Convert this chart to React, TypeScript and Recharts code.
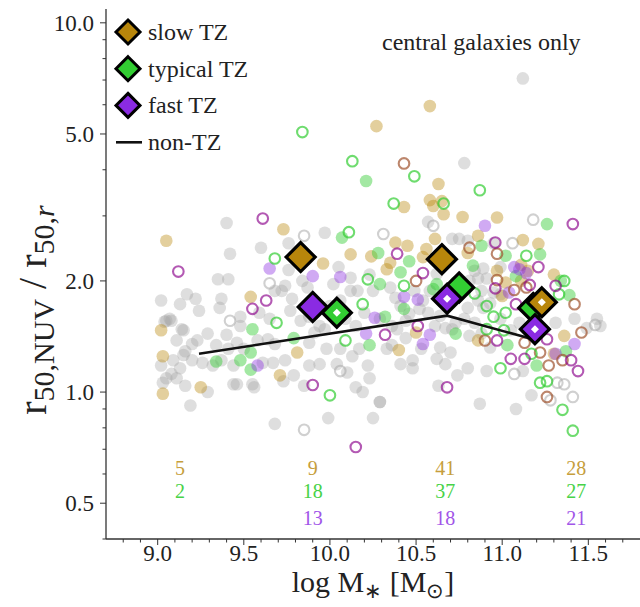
import React from "react"
import { ScatterChart, Scatter, XAxis, YAxis } from "recharts"

type Pt = [number, number]

// non-TZ galaxies (grey)
const nonTzFilled: Pt[] = [
  [11.12, 7.07], [10.78, 4.17], [9.40, 2.87], [9.42, 2.37], [9.60, 2.46], [9.97, 2.70], [9.76, 2.53], [9.76, 2.14],
  [9.35, 2.02], [9.41, 2.02], [9.84, 2.0], [10.05, 2.18], [10.12, 2.04], [10.02, 1.96], [9.87, 1.92], [9.74, 1.94],
  [9.72, 1.88], [9.68, 1.88], [10.12, 1.88], [10.16, 1.88], [9.78, 1.79], [9.02, 1.77], [9.17, 1.84], [9.13, 1.73],
  [9.22, 1.79], [9.24, 1.66], [9.37, 1.79], [9.36, 1.69], [10.23, 2.08], [10.25, 1.88], [9.07, 1.58], [9.15, 1.47],
  [9.04, 1.55], [9.48, 1.60],
  [10.57, 2.89], [10.71, 2.60], [10.75, 2.60], [10.80, 2.57], [10.89, 2.16], [10.84, 2.13], [10.86, 2.03], [10.81, 2.0],
  [10.91, 2.03], [10.95, 1.86], [10.99, 1.84], [10.88, 1.88], [10.62, 2.09], [10.58, 1.88], [10.49, 1.88], [10.54, 1.77],
  [10.57, 1.64], [10.86, 1.77], [10.89, 1.69], [10.80, 1.69], [10.93, 1.74], [10.38, 1.80], [10.35, 1.92], [10.52, 1.68],
  [10.46, 1.63], [10.99, 2.18], [11.55, 1.58], [10.95, 2.53],
  [9.05, 1.56], [9.08, 1.56], [9.14, 1.48], [9.29, 1.44], [9.40, 1.43], [9.46, 1.36], [9.48, 1.51], [9.23, 1.38],
  [9.20, 1.35], [9.15, 1.26], [9.09, 1.22], [9.20, 1.22], [9.13, 1.16], [9.08, 1.12], [9.11, 1.09], [9.05, 1.09],
  [9.03, 1.06], [9.16, 1.04], [9.29, 1.0], [9.26, 1.20], [9.32, 1.18], [9.37, 1.22], [9.44, 1.18], [9.44, 1.05],
  [9.55, 1.05], [9.56, 1.03], [9.41, 1.31], [9.50, 1.31], [9.58, 1.38], [9.64, 1.39], [9.68, 1.35], [9.67, 1.20],
  [9.61, 1.20], [9.74, 1.22], [9.79, 1.11], [9.73, 1.07], [9.85, 1.04], [9.88, 1.18], [9.94, 1.19], [9.98, 1.31],
  [9.88, 1.36], [9.91, 1.45], [9.97, 1.48], [10.06, 1.31], [10.13, 1.25], [10.04, 1.19], [10.15, 1.03], [10.19, 1.0],
  [10.10, 1.13], [10.22, 1.18], [10.23, 1.09], [10.29, 0.94], [10.25, 0.85], [9.19, 0.92], [9.68, 0.82], [9.99, 0.85],
  [9.46, 1.05], [9.02, 1.18], [9.11, 1.38], [9.16, 1.29], [9.34, 1.34], [10.17, 1.31], [10.33, 1.31],
  [10.41, 1.19], [10.48, 1.22], [10.48, 1.16], [10.62, 1.23], [10.67, 1.19], [10.70, 1.28], [10.64, 1.32], [10.53, 1.31],
  [10.44, 1.40], [10.39, 1.48], [10.36, 1.34], [10.74, 1.11], [10.80, 1.16], [10.63, 1.04], [10.91, 1.14], [10.87, 0.93],
  [11.08, 0.90], [11.17, 0.98], [11.12, 1.14], [10.81, 1.42], [10.88, 1.44], [10.93, 1.32], [10.67, 1.49], [10.71, 1.48],
  [10.61, 1.51], [11.49, 1.49], [10.29, 0.94],
  [9.59, 1.64], [9.65, 1.58], [9.77, 1.66], [9.83, 1.56], [9.88, 1.60], [9.94, 1.51], [10.09, 1.58], [10.15, 1.51],
  [10.20, 1.64], [10.29, 1.58], [10.36, 1.51], [10.41, 1.71], [10.44, 1.56], [10.64, 1.61], [10.73, 1.54], [10.78, 1.58],
  [10.84, 1.54], [10.99, 1.58], [11.05, 1.47], [11.10, 1.54], [11.19, 1.58], [11.31, 1.54], [11.42, 1.58], [11.57, 1.51],
  [10.0, 1.71], [10.06, 1.77],
]
const nonTzOpen: Pt[] = [
  [9.85, 2.65], [9.65, 1.97], [9.42, 1.56], [9.85, 0.79], [11.18, 2.93], [11.06, 2.53], [10.60, 2.82], [10.31, 2.68],
  [11.54, 1.52], [11.07, 1.12], [11.32, 1.06], [11.36, 1.05], [11.41, 0.97], [11.28, 0.95], [10.06, 1.14],
]

// TZ galaxies
const slowFilled: Pt[] = [
  [9.05, 2.57], [9.02, 1.47], [9.03, 1.25], [9.03, 0.99], [9.25, 1.03], [9.81, 1.28], [9.71, 1.11], [9.54, 1.81],
  [9.73, 2.76], [10.12, 2.36], [9.96, 2.23], [10.24, 2.33], [10.33, 2.15], [10.43, 3.17], [10.58, 3.31], [10.65, 3.29],
  [10.60, 3.19], [10.66, 3.03], [10.77, 2.98], [10.97, 2.97], [10.86, 2.65], [10.61, 2.60], [10.38, 2.54], [10.45, 2.49],
  [10.56, 2.44], [10.54, 2.32], [11.12, 2.58], [11.21, 2.52], [11.30, 2.08], [10.35, 2.24], [10.80, 2.38], [10.97, 2.13],
  [11.02, 1.98], [11.0, 1.82], [11.11, 2.0], [11.11, 2.21], [11.15, 2.13], [10.63, 3.66], [11.36, 1.42], [10.58, 5.95],
  [10.27, 5.25], [10.40, 1.30], [10.86, 1.38], [11.30, 1.27], [10.50, 1.45],
]
const typicalFilled: Pt[] = [
  [9.55, 1.48], [9.79, 1.40], [9.54, 1.28], [9.34, 1.21], [9.48, 1.22], [9.54, 1.15], [10.23, 1.34], [10.07, 2.62],
  [10.28, 2.38], [10.29, 1.96], [10.21, 3.73], [11.26, 2.85], [10.88, 2.49], [11.02, 2.34], [11.22, 2.36], [10.46, 2.26],
  [10.41, 2.11], [10.60, 1.90], [10.73, 1.98], [10.83, 2.20], [11.08, 2.06], [11.34, 2.0], [11.39, 1.83], [10.43, 1.68],
  [10.62, 1.96], [10.73, 1.44], [11.03, 1.34], [11.20, 1.18], [11.37, 1.29], [10.32, 1.60],
]
const fastFilled: Pt[] = [
  [9.65, 2.16], [9.90, 2.06], [10.06, 2.05], [10.26, 1.59], [9.58, 1.18], [10.21, 1.44], [10.90, 2.82], [10.43, 1.81],
  [10.51, 1.78], [11.04, 1.86], [11.10, 2.15], [11.14, 2.10], [10.54, 1.35], [10.58, 1.43], [11.42, 1.35], [11.31, 1.27],
  [11.07, 2.18],
]
const slowOpen: Pt[] = [
  [10.43, 4.16], [10.81, 2.46], [10.97, 2.37], [10.50, 2.0], [10.97, 2.01], [11.07, 1.89], [11.14, 1.92], [11.42, 1.73],
  [11.46, 1.45], [10.90, 1.38], [11.13, 1.36], [11.22, 1.28], [11.27, 1.18], [11.35, 1.22], [11.26, 0.97],
]
const typicalOpen: Pt[] = [
  [9.84, 5.06], [10.13, 4.22], [10.11, 2.71], [9.68, 2.30], [10.22, 2.02], [10.19, 1.73], [9.69, 1.54], [10.09, 1.38],
  [10.0, 0.98], [10.49, 3.84], [10.87, 3.52], [10.37, 3.24], [10.66, 3.24], [11.14, 2.34], [10.43, 1.94], [11.33, 1.84],
  [11.36, 2.0], [10.91, 1.71], [11.02, 1.64], [10.95, 1.60], [10.84, 1.85], [10.99, 1.16], [11.22, 1.06], [11.26, 1.07],
  [11.35, 0.895], [11.41, 0.786], [11.01, 1.47], [10.91, 1.48], [11.17, 1.27],
]
const fastOpen: Pt[] = [
  [9.61, 2.95], [9.12, 2.12], [9.63, 1.77], [9.55, 1.68], [9.90, 1.045], [10.15, 0.71], [10.68, 1.03], [10.39, 2.37],
  [10.96, 2.54], [11.41, 2.85], [11.21, 2.18], [10.54, 2.10], [10.96, 1.91], [11.16, 1.95], [11.31, 1.94], [11.08, 1.73],
  [10.51, 1.51], [10.32, 1.43], [11.26, 1.39], [10.97, 1.38], [11.05, 1.23], [11.13, 1.23], [11.40, 1.22], [11.44, 1.14],
]

// medians; "marked" ones carry the white centre
const slowMedian = [
  { x: 9.83, y: 2.32, marked: false },
  { x: 10.65, y: 2.29, marked: false },
  { x: 11.23, y: 1.75, marked: true },
]
const typicalMedian = [
  { x: 10.04, y: 1.64, marked: true },
  { x: 10.75, y: 1.92, marked: false },
  { x: 11.18, y: 1.69, marked: false },
]
const fastMedian = [
  { x: 9.9, y: 1.70, marked: false },
  { x: 10.68, y: 1.79, marked: true },
  { x: 11.19, y: 1.48, marked: true },
]
const nonTzMedian: Pt[] = [[9.24, 1.27], [10.68, 1.61], [11.19, 1.385]]

const countBins = [9.13, 9.9, 10.67, 11.43]
const slowCounts = [5, 9, 41, 28]
const typicalCounts = [2, 18, 37, 27]
const fastCounts = [null, 13, 18, 21]
const countRowLevels = [0.624, 0.541, 0.457]

const xMajorTicks = [9.0, 9.5, 10.0, 10.5, 11.0, 11.5]
const xMinorTicks = [8.8, 8.9, 9.1, 9.2, 9.3, 9.4, 9.6, 9.7, 9.8, 9.9, 10.1, 10.2, 10.3, 10.4, 10.6, 10.7, 10.8, 10.9, 11.1, 11.2, 11.3, 11.4, 11.6, 11.7]
const yMajorTicks = [0.5, 1, 2, 5, 10]
const yMinorTicks = [0.4, 0.6, 0.7, 0.8, 0.9, 3, 4, 6, 7, 8, 9]

const FONT = "Liberation Serif"
const SLOW = "#b8860b"
const TYPICAL = "#32cd32"
const FAST = "#8a2be2"

const toPts = (arr: Pt[]) => arr.map(([x, y]) => ({ x, y }))

const dot = (fill: string, opacity: number) => (p: any) => (
  <circle cx={p.cx} cy={p.cy} r={6.3} fill={fill} fillOpacity={opacity} stroke="none" />
)
const ring = (stroke: string, opacity: number) => (p: any) => (
  <circle cx={p.cx} cy={p.cy} r={5.3} fill="none" stroke={stroke} strokeOpacity={opacity} strokeWidth={2.1} />
)
const diamondPath = (cx: number, cy: number, r: number) =>
  `M${cx},${cy - r} L${cx + r},${cy} L${cx},${cy + r} L${cx - r},${cy} Z`
const diamond = (fill: string) => (p: any) => (
  <g>
    <path d={diamondPath(p.cx, p.cy, 14.5)} fill={fill} stroke="#000" strokeWidth={3.2} strokeLinejoin="miter" />
    {p.payload.marked && <path d={diamondPath(p.cx, p.cy, 4)} fill="#fff" />}
  </g>
)
const countText = (color: string) => (p: any) => (
  <text x={p.cx} y={p.cy + 7} textAnchor="middle" fontSize={20} fontFamily={FONT} fill={color}>
    {p.payload.label}
  </text>
)

function XTick(props: any) {
  const { x, y, payload } = props
  const major = xMajorTicks.includes(payload.value)
  return (
    <g>
      <line x1={x} x2={x} y1={y} y2={y + (major ? 6 : 3.5)} stroke="#333" strokeWidth={1} />
      {major && (
        <text x={x} y={y + 22} textAnchor="middle" fontSize={23} fontFamily={FONT} fill="#222">
          {payload.value.toFixed(1)}
        </text>
      )}
    </g>
  )
}

function YTick(props: any) {
  const { x, y, payload } = props
  const major = yMajorTicks.includes(payload.value)
  return (
    <g>
      <line x1={x - (major ? 6 : 3.5)} x2={x} y1={y} y2={y} stroke="#333" strokeWidth={1} />
      {major && (
        <text x={x - 12} y={y + 8} textAnchor="end" fontSize={23} fontFamily={FONT} fill="#222">
          {payload.value.toFixed(1)}
        </text>
      )}
    </g>
  )
}

const countRows = (counts: (number | null)[], level: number) =>
  countBins
    .map((x, i) => ({ x, y: level, label: counts[i] }))
    .filter((d) => d.label !== null)

export default function App() {
  const legendRows = [
    { label: "slow TZ", color: SLOW },
    { label: "typical TZ", color: TYPICAL },
    { label: "fast TZ", color: FAST },
  ]
  return (
    <div style={{ position: "fixed", left: 0, top: 0, width: 640, height: 607, background: "#fff" }}>
      <ScatterChart width={640} height={607} margin={{ top: 9, right: 0, bottom: 0, left: 0 }}>
        <XAxis
          type="number"
          dataKey="x"
          domain={[8.7, 11.8]}
          ticks={[...xMajorTicks, ...xMinorTicks]}
          interval={0}
          tick={<XTick />}
          tickLine={false}
          tickSize={0}
          tickMargin={0}
          height={68}
          allowDataOverflow
          axisLine={{ stroke: "#333", strokeWidth: 1.3 }}
        />
        <XAxis
          xAxisId="top"
          orientation="top"
          type="number"
          domain={[8.7, 11.8]}
          tick={false}
          tickLine={false}
          height={0}
          allowDataOverflow
          axisLine={{ stroke: "#333", strokeWidth: 1.3 }}
        />
        <YAxis
          type="number"
          dataKey="y"
          scale="log"
          domain={[0.4, 10.9]}
          ticks={[...yMajorTicks, ...yMinorTicks]}
          interval={0}
          tick={<YTick />}
          tickLine={false}
          tickSize={0}
          tickMargin={0}
          width={106}
          allowDataOverflow
          axisLine={{ stroke: "#333", strokeWidth: 1.3 }}
        />
        <Scatter data={toPts(nonTzFilled)} shape={dot("#a0a0a0", 0.35)} isAnimationActive={false} />
        <Scatter data={toPts(nonTzOpen)} shape={ring("#a9a9a9", 0.55)} isAnimationActive={false} />
        <Scatter data={toPts(slowFilled)} shape={dot(SLOW, 0.4)} isAnimationActive={false} />
        <Scatter data={toPts(typicalFilled)} shape={dot(TYPICAL, 0.45)} isAnimationActive={false} />
        <Scatter data={toPts(fastFilled)} shape={dot(FAST, 0.4)} isAnimationActive={false} />
        <Scatter data={toPts(slowOpen)} shape={ring("#a0522d", 0.7)} isAnimationActive={false} />
        <Scatter data={toPts(typicalOpen)} shape={ring(TYPICAL, 0.7)} isAnimationActive={false} />
        <Scatter data={toPts(fastOpen)} shape={ring("#8b008b", 0.65)} isAnimationActive={false} />
        <Scatter
          data={toPts(nonTzMedian)}
          line={{ stroke: "#111", strokeWidth: 2.6 }}
          shape={() => <g />}
          isAnimationActive={false}
        />
        <Scatter data={slowMedian.filter((d) => !d.marked)} shape={diamond(SLOW)} isAnimationActive={false} />
        <Scatter data={typicalMedian.filter((d) => !d.marked)} shape={diamond(TYPICAL)} isAnimationActive={false} />
        <Scatter data={fastMedian.filter((d) => !d.marked)} shape={diamond(FAST)} isAnimationActive={false} />
        <Scatter data={typicalMedian.filter((d) => d.marked)} shape={diamond(TYPICAL)} isAnimationActive={false} />
        <Scatter data={fastMedian.filter((d) => d.marked)} shape={diamond(FAST)} isAnimationActive={false} />
        <Scatter data={slowMedian.filter((d) => d.marked)} shape={diamond(SLOW)} isAnimationActive={false} />
        <Scatter data={countRows(slowCounts, countRowLevels[0])} shape={countText("#c69e3c")} isAnimationActive={false} />
        <Scatter data={countRows(typicalCounts, countRowLevels[1])} shape={countText("#47d247")} isAnimationActive={false} />
        <Scatter data={countRows(fastCounts, countRowLevels[2])} shape={countText("#a155e8")} isAnimationActive={false} />
      </ScatterChart>
      <svg
        width={640}
        height={607}
        style={{ position: "absolute", left: 0, top: 0, pointerEvents: "none" }}
        fontFamily={FONT}
      >
        {legendRows.map((r, i) => (
          <g key={r.label}>
            <path d={diamondPath(128, 32 + i * 36.7, 12)} fill={r.color} stroke="#000" strokeWidth={3} />
            <text x={148} y={40 + i * 36.7} fontSize={24} fill="#222">{r.label}</text>
          </g>
        ))}
        <line x1={116} x2={142} y1={142.3} y2={142.3} stroke="#111" strokeWidth={2.6} />
        <text x={148} y={150} fontSize={24} fill="#222">non-TZ</text>
        <text x={382} y={50} fontSize={24} fill="#222">central galaxies only</text>
        <text x={373} y={592} textAnchor="middle" fontSize={30} fill="#222">
          log M<tspan fontSize={21} dy={6}>∗</tspan>
          <tspan dy={-6}> [M</tspan>
          <tspan fontSize={21} dy={6}>⊙</tspan>
          <tspan dy={-6}>]</tspan>
        </text>
        <text transform="translate(46,310) rotate(-90)" textAnchor="middle" fontSize={40} fill="#222">
          r<tspan fontSize={30} dy={8}>50,NUV</tspan>
          <tspan dy={-8}> / r</tspan>
          <tspan fontSize={30} dy={8}>50,</tspan>
          <tspan fontSize={30} fontStyle="italic">r</tspan>
        </text>
      </svg>
    </div>
  )
}
